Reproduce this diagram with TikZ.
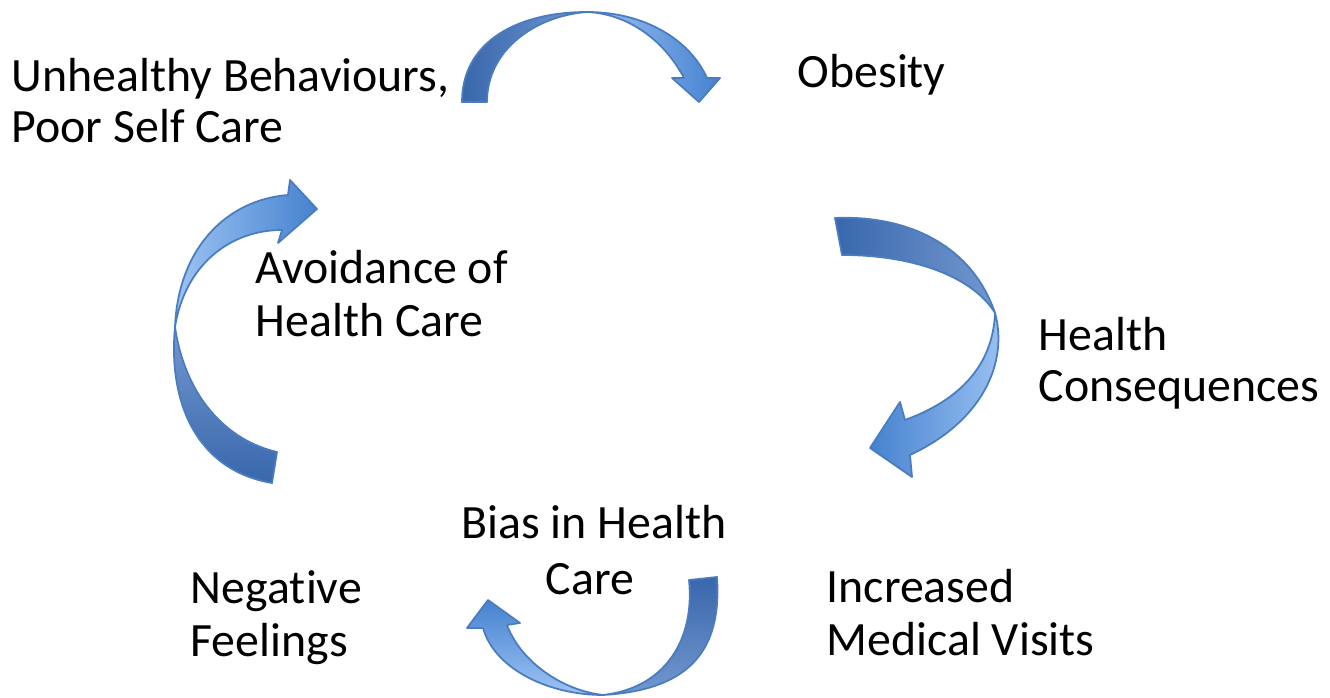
\documentclass[tikz,border=0pt]{standalone}
\usepackage{fontspec}
\setmainfont{Carlito}[Ligatures={NoCommon,NoContextual,NoRare}]
\definecolor{ribbondark}{HTML}{3867AC}
\definecolor{ribbonsoft}{HTML}{7398CF}
\definecolor{ribbonmid}{HTML}{4682CF}
\definecolor{ribbonlight}{HTML}{9DC3F3}
\definecolor{ribbonedge}{HTML}{4A7CC0}

\begin{document}
\begin{tikzpicture}[x=0.01cm,y=-0.01cm,
    lbl/.style={inner sep=0pt, align=left, anchor=base west,
      font=\fontsize{13.6}{15.2}\selectfont},
    tight/.style={font=\fontsize{13.6}{14.6}\selectfont},
    ribbon/.style={draw=ribbonedge, line width=0.5pt, line join=round}]
  \useasboundingbox (0,0) rectangle (1330,698);

  % the six stages of the cycle (placed at the baseline of the last line)
  \node[lbl, tight] (habits) at (11,143) {Unhealthy Behaviours,\\Poor Self Care};
  \node[lbl] (obesity) at (797,88) {Obesity};
  \node[lbl, tight] (conseq) at (1038,402) {Health\\Consequences};
  \node[lbl] (visits) at (826,656) {Increased\\Medical Visits};
  \node[lbl, align=center, anchor=base, font=\fontsize{13.6}{16.2}\selectfont]
    (bias) at (594,595) {Bias in Health\\Care\,};
  \node[lbl] (negative) at (190,657) {Nega\kern0pt tive\\Feelings};
  \node[lbl] (avoid) at (255,337) {Avoidance of\\Health Care};

  % curved arrows, each one a twisted ribbon in two halves
  % top: habits -> obesity
  \shade[ribbon, left color=ribbondark, right color=ribbonsoft]
    (462,102) .. controls (462,40) and (520,12) .. (587,12)
    .. controls (535,16) and (487,50) .. (487,102) -- cycle;
  \shade[ribbon, left color=ribbonlight, right color=ribbonmid]
    (587,12) .. controls (645,12) and (690,40) .. (707,78)
    -- (720,78) -- (699,102) -- (672,78) -- (684,78)
    .. controls (665,42) and (630,14) .. (587,12) -- cycle;

  % right: obesity -> conseq
  \shade[ribbon, left color=ribbondark, right color=ribbonsoft]
    (835,218) .. controls (900,215) and (970,240) .. (995,313)
    .. controls (975,280) and (920,255) .. (842,255) -- cycle;
  \shade[ribbon, left color=ribbonmid, right color=ribbonlight]
    (995,313) .. controls (1008,360) and (985,420) .. (910,455)
    -- (912,477) -- (870,448) -- (900,402) -- (905,420)
    .. controls (960,400) and (993,365) .. (995,313) -- cycle;

  % bottom: bias -> negative
  \shade[ribbon, top color=ribbondark, bottom color=ribbonsoft]
    (717,577) .. controls (722,650) and (690,690) .. (603,695)
    .. controls (665,688) and (695,640) .. (689,580) -- cycle;
  \shade[ribbon, top color=ribbonmid, bottom color=ribbonlight]
    (603,695) .. controls (550,695) and (495,670) .. (483,628)
    -- (467,628) -- (488,600) -- (520,623) -- (507,625)
    .. controls (520,660) and (560,690) .. (603,695) -- cycle;

  % left: negative -> habits
  \shade[ribbon, top color=ribbonsoft, bottom color=ribbondark]
    (272,483) .. controls (195,470) and (168,400) .. (175,327)
    .. controls (185,395) and (225,440) .. (277,452) -- cycle;
  \shade[ribbon, left color=ribbonlight, right color=ribbonmid]
    (175,327) .. controls (178,250) and (225,200) .. (288,195)
    -- (290,180) -- (317,209) -- (278,243) -- (282,230)
    .. controls (230,230) and (185,265) .. (175,327) -- cycle;
\end{tikzpicture}
\end{document}
